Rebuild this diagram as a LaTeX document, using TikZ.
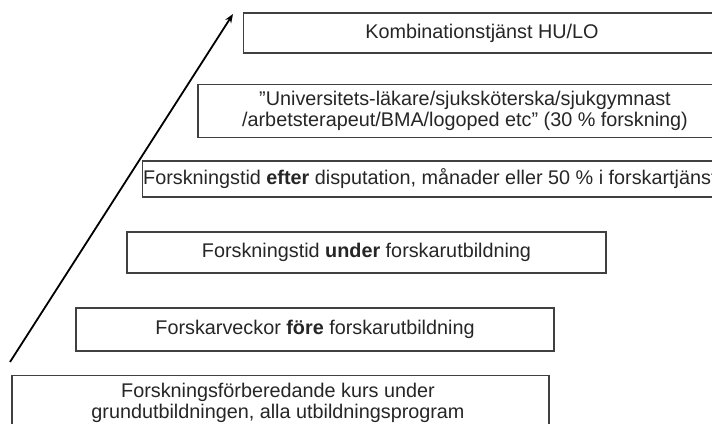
\documentclass[tikz,border=0pt]{standalone}
\usepackage{fontspec}
\setmainfont{Liberation Sans}
\usetikzlibrary{arrows.meta}
\begin{document}
\begin{tikzpicture}[x=1pt,y=-1pt,
  lvl/.style={draw=black!75, line width=1.3pt, fill=white, rectangle, inner sep=0pt,
    font=\fontsize{19.8}{21}\selectfont, text=black!85, align=center},
  lbl/.style={inner sep=1pt, font=\fontsize{19.8}{21}\selectfont, text=black!85},
  axis/.style={line width=1.8pt, black, -{Stealth[length=9pt,width=7pt]}}]
\useasboundingbox (0,0) rectangle (712,423);
\clip (0,0) rectangle (712,423);
\fill[white] (0,0) rectangle (712,423);
% levels
\node[lvl, anchor=west, minimum width=520pt, minimum height=40pt] (b1) at (243,33) {};
\node[lbl] (t1) at (482,33) {Kombinationstjänst HU/LO};
\node[lvl, minimum width=534pt, minimum height=53pt] (b2) at (465,111)
  {”Universitets-läkare/sjuksköterska/sjukgymnast\\/arbetsterapeut/BMA/logoped etc” (30 \% forskning)};
\node[lvl, anchor=west, minimum width=640pt, minimum height=36pt] (b3) at (142,179) {};
\node[lbl, anchor=west] (t3) at (b3.west) {Forskningstid \textbf{efter} disputation, månader eller 50 \% i forskartjänst};
\node[lvl, minimum width=479pt, minimum height=41pt] (b4) at (366.5,252.5) {Forskningstid \textbf{under} forskarutbildning};
\node[lvl, minimum width=478pt, minimum height=43pt] (b5) at (315,329.5) {Forskarveckor \textbf{före} forskarutbildning};
\node[lvl, anchor=north, minimum width=537pt, minimum height=70pt] (b6) at (280.5,375) {};
\node[lbl, align=center] (t6) at (278,403) {Forskningsförberedande kurs under\\grundutbildningen, alla utbildningsprogram};
% axis arrow
\coordinate (a0) at (10,362);
\coordinate (a1) at (233,14);
\draw[axis] (a0) -- (a1);
\end{tikzpicture}
\end{document}
